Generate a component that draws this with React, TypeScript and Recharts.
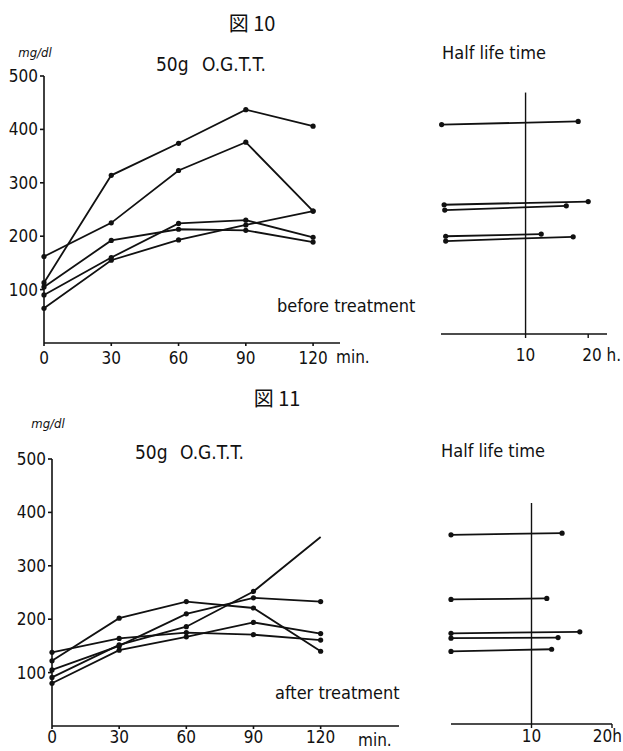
import React from 'react';
import { LineChart, Line, XAxis, YAxis, ReferenceLine } from 'recharts';

const minutes = [0, 30, 60, 90, 120];
const minuteTicks = [0, 30, 60, 90, 120];
const glucoseTicks = [100, 200, 300, 400, 500];
const hourTicks = [10, 20];

// 図 10 - before treatment, blood sugar (mg/dl)
const before1 = [113, 314, 374, 437, 406];
const before2 = [162, 225, 323, 376, 247];
const before3 = [105, 192, 213, 211, 189];
const before4 = [90, 160, 224, 230, 198];
const before5 = [65, 155, 193, 221, 247];

// 図 11 - after treatment
const after1 = [122, 202, 233, 221, 140];
const after2 = [138, 164, 175, 171, 161];
const after3 = [105, 150, 210, 240, 233];
const after4 = [91, 152, 186, 252, 354];
const after5 = [80, 142, 167, 194, 173];

// half life time (h) and the level each bar sits at
const beforeHalfFrom = [-3.4, -3.0, -2.9, -2.75, -2.75];
const beforeHalfTo = [18.4, 20.0, 16.5, 12.5, 17.6];
const beforeHalfLevelFrom = [409, 259, 249, 200, 191];
const beforeHalfLevelTo = [415, 265, 257, 204, 199];

const afterHalfFrom = [0, 0, 0, 0, 0];
const afterHalfTo = [13.8, 11.9, 16.0, 13.3, 12.5];
const afterHalfLevelFrom = [357, 235, 171, 162, 137];
const afterHalfLevelTo = [360, 237, 174, 163, 141];

const FONT = "'DejaVu Sans Condensed', 'Liberation Sans Narrow', 'DejaVu Sans', sans-serif";
const INK = '#111';

const toRows = (series: number[][]) =>
  minutes.map((t, i) => {
    const row: any = { t };
    series.forEach((s, k) => (row['s' + (k + 1)] = s[i]));
    return row;
  });

const toBars = (from: number[], to: number[], lvFrom: number[], lvTo: number[]) =>
  from.map((f, i) => [
    { h: f, v: lvFrom[i] },
    { h: to[i], v: lvTo[i] },
  ]);

const beforeRows = toRows([before1, before2, before3, before4, before5]);
const afterRows = toRows([after1, after2, after3, after4, after5]);
const beforeBars = toBars(beforeHalfFrom, beforeHalfTo, beforeHalfLevelFrom, beforeHalfLevelTo);
const afterBars = toBars(afterHalfFrom, afterHalfTo, afterHalfLevelFrom, afterHalfLevelTo);

const tickStyle = { fontSize: 17, fill: INK, fontFamily: FONT };

const dot = (props: any) => {
  const { cx, cy, index, dataKey, hideLast } = props;
  if (cx == null || cy == null) return <g key={`${dataKey}-${index}`} />;
  if (hideLast && index === minutes.length - 1) return <g key={`${dataKey}-${index}`} />;
  return <circle key={`${dataKey}-${index}`} cx={cx} cy={cy} r={2.6} fill={INK} />;
};

// the "20" tick carries the unit, like the original
const hourTick = (suffix: string, endAt?: number) => (props: any) => {
  const { x, y, payload } = props;
  const last = payload.value === 20;
  const anchor = last ? (endAt != null ? 'end' : 'start') : 'middle';
  const tx = last ? (endAt != null ? x + endAt : x - 6) : x;
  return (
    <text x={tx} y={y} dy="0.71em" textAnchor={anchor} fontSize={17} fill={INK} fontFamily={FONT}>
      {last ? '20' + suffix : payload.value}
    </text>
  );
};

const OgttChart: React.FC<{
  rows: any[];
  width: number;
  height: number;
  top: number;
  yWidth: number;
  xMax: number;
  xHeight: number;
  tickGap: number;
  noDotLast?: string;
}> = ({ rows, width, height, top, yWidth, xMax, xHeight, tickGap, noDotLast }) => (
  <LineChart width={width} height={height} data={rows} margin={{ top, right: 5, bottom: 0, left: 0 }}>
    <XAxis
      dataKey="t"
      type="number"
      domain={[0, xMax]}
      ticks={minuteTicks}
      interval={0}
      height={xHeight}
      tickSize={3}
      tickMargin={tickGap}
      tick={tickStyle}
      stroke={INK}
      strokeWidth={1.6}
    />
    <YAxis
      type="number"
      domain={[0, 500]}
      ticks={glucoseTicks}
      interval={0}
      width={yWidth}
      tickSize={4}
      tickMargin={2}
      tick={tickStyle}
      stroke={INK}
      strokeWidth={1.6}
    />
    {['s1', 's2', 's3', 's4', 's5'].map((k) => (
      <Line
        key={k}
        dataKey={k}
        type="linear"
        stroke={INK}
        strokeWidth={1.8}
        dot={(p: any) => dot({ ...p, hideLast: noDotLast === k })}
        activeDot={false}
        isAnimationActive={false}
      />
    ))}
  </LineChart>
);

const HalfLifeChart: React.FC<{
  bars: { h: number; v: number }[][];
  height: number;
  margin: any;
  xDomain: number[];
  yDomain: number[];
  xHeight: number;
  tickGap: number;
  lineFrom: number;
  lineTo: number;
  tick: any;
}> = ({ bars, height, margin, xDomain, yDomain, xHeight, tickGap, lineFrom, lineTo, tick }) => (
  <LineChart width={193} height={height} margin={margin}>
    <XAxis
      dataKey="h"
      type="number"
      domain={xDomain}
      ticks={hourTicks}
      interval={0}
      height={xHeight}
      tickSize={4}
      tickMargin={tickGap}
      tick={tick}
      stroke={INK}
      strokeWidth={1.4}
    />
    <YAxis type="number" domain={yDomain} hide />
    <ReferenceLine
      segment={[
        { x: 10, y: lineFrom },
        { x: 10, y: lineTo },
      ]}
      stroke={INK}
      strokeWidth={1.4}
    />
    {bars.map((b, i) => (
      <Line
        key={i}
        data={b}
        dataKey="v"
        type="linear"
        stroke={INK}
        strokeWidth={1.8}
        dot={{ r: 2.6, fill: INK, stroke: INK, strokeWidth: 0 }}
        activeDot={false}
        isAnimationActive={false}
      />
    ))}
  </LineChart>
);

const label = (x: number, y: number, text: string, size: number, anchor: string = 'start', extra: any = {}) => (
  <text x={x} y={y} fontSize={size} textAnchor={anchor} dominantBaseline="central" fill={INK} fontFamily={FONT} {...extra}>
    {text}
  </text>
);

export default function App() {
  return (
    <div style={{ position: 'absolute', left: 0, top: 0, width: 623, height: 751, background: '#fff', overflow: 'hidden' }}>
      <div style={{ position: 'absolute', left: 0, top: 60 }}>
        <OgttChart rows={beforeRows} width={345} height={310} top={16} yWidth={44} xMax={132} xHeight={27} tickGap={6} />
      </div>
      <div style={{ position: 'absolute', left: 430, top: 60 }}>
        <HalfLifeChart
          bars={beforeBars}
          height={310}
          margin={{ top: 16, right: 16, bottom: 0, left: 11 }}
          xDomain={[-3.5, 23]}
          yDomain={[17, 500]}
          xHeight={36}
          tickGap={11}
          lineFrom={469}
          lineTo={17}
          tick={hourTick(' h.')}
        />
      </div>
      <div style={{ position: 'absolute', left: 0, top: 440 }}>
        <OgttChart rows={afterRows} width={404} height={311} top={19} yWidth={52} xMax={155} xHeight={25} tickGap={2} noDotLast="s4" />
      </div>
      <div style={{ position: 'absolute', left: 430, top: 440 }}>
        <HalfLifeChart
          bars={afterBars}
          height={311}
          margin={{ top: 19, right: 11, bottom: 0, left: 21 }}
          xDomain={[0, 20]}
          yDomain={[0, 500]}
          xHeight={27}
          tickGap={2}
          lineFrom={417}
          lineTo={0}
          tick={hourTick('h', 10)}
        />
      </div>
      <svg width={623} height={751} style={{ position: 'absolute', left: 0, top: 0, pointerEvents: 'none' }}>
        {label(252, 22, '図 10', 20, 'middle', { fontFamily: "'Noto Sans CJK JP', sans-serif" })}
        {label(35, 52, 'mg/dl', 13, 'middle', { fontStyle: 'italic' })}
        {label(156, 64, '50g', 19)}
        {label(202, 64, 'O.G.T.T.', 19)}
        {label(494, 52, 'Half life time', 18, 'middle')}
        {label(277, 305, 'before treatment', 18)}
        {label(336, 357, 'min.', 17)}
        {label(277, 397, '図 11', 20, 'middle', { fontFamily: "'Noto Sans CJK JP', sans-serif" })}
        {label(48, 423, 'mg/dl', 13, 'middle', { fontStyle: 'italic' })}
        {label(135, 452, '50g', 19)}
        {label(180, 452, 'O.G.T.T.', 19)}
        {label(493, 450, 'Half life time', 18, 'middle')}
        {label(275, 692, 'after treatment', 18)}
        {label(358, 740, 'min.', 17)}
      </svg>
    </div>
  );
}
